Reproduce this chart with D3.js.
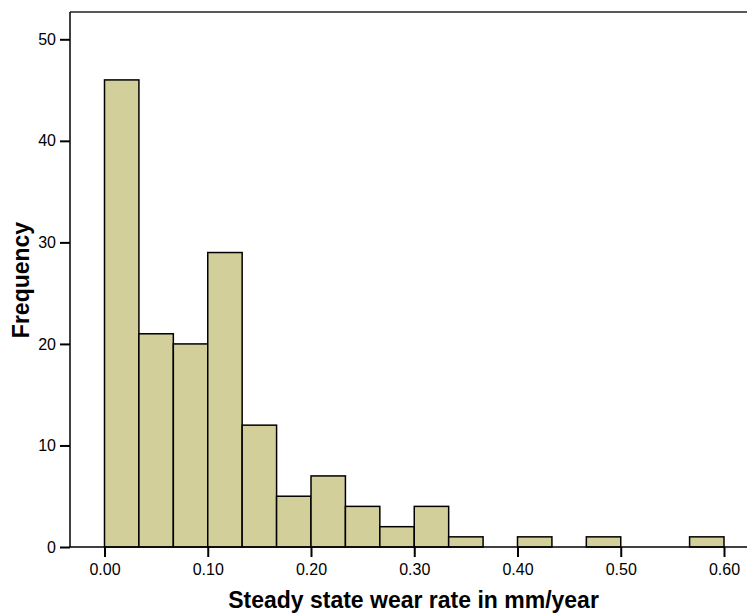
<!DOCTYPE html>
<html>
<head>
<meta charset="utf-8">
<script src="https://d3js.org/d3.v7.min.js"></script>
<style>
  body { margin: 0; background: #fff; }
  text { font-family: "Liberation Sans", Arial, sans-serif; }
</style>
</head>
<body>
<svg id="chart" width="747" height="616"></svg>
<script>
const binWidth = 1 / 30;
const binStarts = d3.range(18).map(i => i * binWidth);
const counts = [46, 21, 20, 29, 12, 5, 7, 4, 2, 4, 1, 0, 1, 0, 1, 0, 0, 1];
const xTicks = [0, 0.1, 0.2, 0.3, 0.4, 0.5, 0.6];
const yTicks = [0, 10, 20, 30, 40, 50];

const svg = d3.select("#chart");
const mLeft = 70, mTop = 12, mRight = 747, mBottom = 547;

const x = d3.scaleLinear().domain([0, 0.6]).range([104.5, 724]);
const y = d3.scaleLinear().domain([0, 50]).range([547, 39.3]);

// bars
svg.append("g").selectAll("rect")
  .data(binStarts.map((s, i) => ({ s, c: counts[i] })).filter(d => d.c > 0))
  .join("rect")
  .attr("x", d => x(d.s))
  .attr("width", d => x(d.s + binWidth) - x(d.s))
  .attr("y", d => y(d.c))
  .attr("height", d => y(0) - y(d.c))
  .attr("fill", "#d3cf9a")
  .attr("stroke", "#000")
  .attr("stroke-width", 1.5);

// frame line top
svg.append("line").attr("x1", mLeft).attr("x2", mRight).attr("y1", mTop).attr("y2", mTop)
  .attr("stroke", "#222").attr("stroke-width", 1.5);

// y axis
const yAxis = svg.append("g").attr("transform", `translate(${mLeft},0)`)
  .call(d3.axisLeft(y).tickValues(yTicks).tickFormat(d3.format("d")).tickSize(10).tickSizeOuter(0).tickPadding(4));
yAxis.select(".domain").remove();
svg.append("line").attr("x1", mLeft).attr("x2", mLeft).attr("y1", mTop).attr("y2", mBottom)
  .attr("stroke", "#000").attr("stroke-width", 1.5);

// x axis
const xAxis = svg.append("g").attr("transform", `translate(0,${mBottom})`)
  .call(d3.axisBottom(x).tickValues(xTicks).tickFormat(d3.format(".2f")).tickSize(10).tickSizeOuter(0).tickPadding(7));
xAxis.select(".domain").remove();
svg.append("line").attr("x1", mLeft).attr("x2", mRight).attr("y1", mBottom).attr("y2", mBottom)
  .attr("stroke", "#000").attr("stroke-width", 1.5);

svg.selectAll(".tick line").attr("stroke", "#000").attr("stroke-width", 2);
svg.selectAll(".tick text").attr("font-size", 16).attr("fill", "#000")
  .attr("font-family", "'Liberation Sans', Arial, sans-serif");

// titles
svg.append("text").attr("x", 413.5).attr("y", 608).attr("text-anchor", "middle")
  .attr("font-size", 23).attr("font-weight", "bold").text("Steady state wear rate in mm/year");
svg.append("text").attr("transform", "translate(29,280) rotate(-90)").attr("text-anchor", "middle")
  .attr("font-size", 23).attr("font-weight", "bold").text("Frequency");
</script>
</body>
</html>
